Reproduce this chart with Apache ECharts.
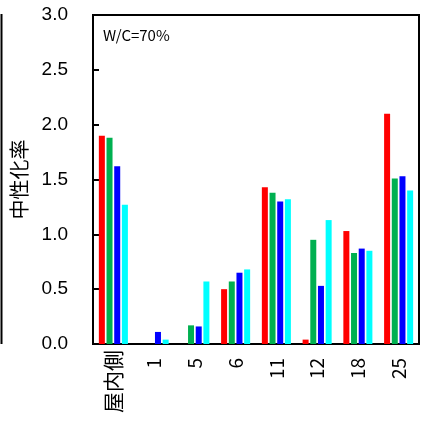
<!DOCTYPE html>
<html>
<head>
<meta charset="utf-8">
<script src="https://cdn.jsdelivr.net/npm/echarts@6/dist/echarts.min.js"></script>
<style>
  html, body { margin: 0; padding: 0; background: #fff; }
  #chart { width: 421px; height: 423px; }
</style>
</head>
<body>
<div id="chart"></div>
<script>
// Categories along the x axis (sampling positions)
const categories = ['屋内側', '1', '5', '6', '11', '12', '18', '25'];

// Carbonation rate per position, one array per series
const seriesRed   = [1.90, 0,    0,    0.50, 1.43, 0.04, 1.03, 2.10];
const seriesGreen = [1.88, 0,    0.17, 0.57, 1.38, 0.95, 0.83, 1.51];
const seriesBlue  = [1.62, 0.11, 0.16, 0.65, 1.30, 0.53, 0.87, 1.53];
const seriesCyan  = [1.27, 0.04, 0.57, 0.68, 1.32, 1.13, 0.85, 1.40];

const yTicks = ['0.0', '0.5', '1.0', '1.5', '2.0', '2.5', '3.0'];

const colors = ['#FF0000', '#00B050', '#0000FF', '#00FFFF'];
const seriesData = [seriesRed, seriesGreen, seriesBlue, seriesCyan];

const numFont = '"Liberation Sans", Arial, sans-serif';
const cjkFont = '"Noto Sans CJK JP", sans-serif';

const chart = echarts.init(document.getElementById('chart'), null, { renderer: 'canvas' });

chart.setOption({
  animation: false,
  backgroundColor: '#fff',
  grid: {
    left: 93, right: 2, top: 15, bottom: 79,
    show: true, borderColor: '#000', borderWidth: 2, backgroundColor: 'transparent'
  },
  graphic: [
    // partial frame edge at the far left
    { type: 'line', shape: { x1: 1.5, y1: 14, x2: 1.5, y2: 344 },
      style: { stroke: '#000', lineWidth: 2 } },
    { type: 'text', left: 103, top: 28,
      style: { text: 'W/C=70%', font: '15px ' + cjkFont, fill: '#000' } }
  ],
  xAxis: {
    type: 'category',
    data: categories,
    axisLine: { show: true, lineStyle: { color: '#000', width: 2 } },
    axisTick: { show: false },
    axisLabel: {
      rotate: 90, margin: 6, color: '#000', interval: 0,
      formatter: (v) => (/^\d+$/.test(v) ? '{n|' + v + '}' : '{c|' + v + '}'),
      rich: {
        c: { fontSize: 21, fontFamily: cjkFont, color: '#000' },
        n: { fontSize: 19, fontFamily: cjkFont, color: '#000', padding: [0, 8, 0, 0] }
      }
    }
  },
  yAxis: {
    type: 'value',
    min: 0, max: 3, interval: 0.5,
    name: '中性化率',
    nameLocation: 'middle',
    nameRotate: 90,
    nameGap: 64,
    nameTextStyle: { fontSize: 20, color: '#000', fontFamily: cjkFont },
    axisLine: { show: true, lineStyle: { color: '#000', width: 2 } },
    axisTick: { show: true, inside: true, length: 6, lineStyle: { color: '#000', width: 2 } },
    splitLine: { show: false },
    axisLabel: {
      margin: 25, fontSize: 19, color: '#000', fontFamily: numFont,
      formatter: (v) => yTicks[Math.round(v / 0.5)]
    }
  },
  series: seriesData.map((d, i) => ({
    type: 'bar',
    data: d,
    barWidth: 6,
    barGap: '28%',
    itemStyle: { color: colors[i] }
  }))
});
</script>
</body>
</html>
